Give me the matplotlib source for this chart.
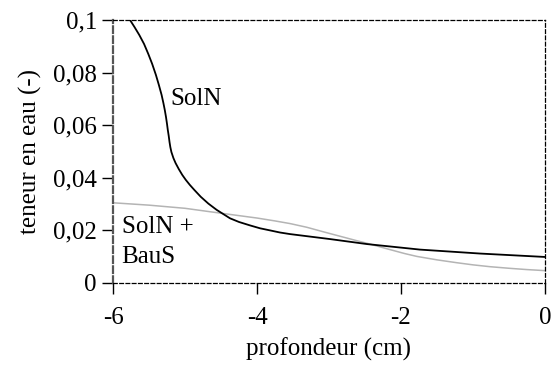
import matplotlib
matplotlib.use("Agg")
import matplotlib.pyplot as plt
from matplotlib.ticker import FuncFormatter

plt.rcParams['font.family'] = ['Liberation Serif', 'DejaVu Serif']

# SolN seul
soln_x = [-5.764, -5.701, -5.635, -5.569, -5.510, -5.456, -5.404, -5.363, -5.325,
          -5.300, -5.281, -5.264, -5.250, -5.239, -5.226, -5.215, -5.204, -5.189,
          -5.161, -5.131, -5.086, -5.038, -4.989, -4.933, -4.871, -4.782, -4.676,
          -4.560, -4.375, -4.250, -4.097, -3.958, -3.819, -3.681, -3.542, -2.986,
          -2.472, -1.736, -0.903, 0.0]
soln_y = [0.1000, 0.0973, 0.0943, 0.0909, 0.0871, 0.0833, 0.0791, 0.0753, 0.0715,
          0.0684, 0.0658, 0.0631, 0.0605, 0.0582, 0.0559, 0.0536, 0.0517, 0.0498,
          0.0475, 0.0456, 0.0433, 0.0411, 0.0392, 0.0373, 0.0354, 0.0328, 0.0302,
          0.0278, 0.0246, 0.0232, 0.0219, 0.0208, 0.0200, 0.0192, 0.0186, 0.0167,
          0.0148, 0.0127, 0.0112, 0.0099]

# SolN + BauS
baus_x = [-6.0, -5.5, -5.0, -4.653, -4.3, -4.0, -3.75, -3.542, -3.31, -3.083,
          -2.85, -2.616, -2.472, -2.3, -2.153, -1.95, -1.778, -1.5, -1.222, -1.0,
          -0.764, -0.5, -0.25, 0.0]
baus_y = [0.0305, 0.0296, 0.0284, 0.0271, 0.0258, 0.0247, 0.0236, 0.0226, 0.0212,
          0.0195, 0.0178, 0.0161, 0.0151, 0.0138, 0.0127, 0.0112, 0.0101, 0.0088,
          0.0077, 0.0069, 0.0062, 0.0056, 0.0051, 0.0047]

xticks = [-6, -4, -2, 0]
yticks = [0, 0.02, 0.04, 0.06, 0.08, 0.1]

fig = plt.figure(figsize=(5.6, 3.71), dpi=100)
ax = fig.add_axes([0.2018, 0.2372, 0.7714, 0.7089])

ax.plot(baus_x, baus_y, color='#b4b4b4', lw=1.1, solid_joinstyle='round')
ax.plot(soln_x, soln_y, color='black', lw=1.3, solid_joinstyle='round')

ax.set_xlim(-6, 0)
ax.set_ylim(0, 0.1)
ax.set_xticks(xticks)
ax.set_yticks(yticks)

def virgule(v, pos):
    return ('%g' % v).replace('.', ',')

ax.xaxis.set_major_formatter(FuncFormatter(lambda v, p: '%d' % v))
ax.yaxis.set_major_formatter(FuncFormatter(virgule))

for side in ['top', 'right', 'bottom']:
    ax.spines[side].set_linestyle((0, (3, 2)))
    ax.spines[side].set_linewidth(0.9)
ax.spines['left'].set_linestyle((0, (3, 1.5)))
ax.spines['left'].set_linewidth(1.6)
ax.spines['left'].set_color('#555555')

ax.tick_params(direction='out', length=8, width=1, labelsize=18)
ax.tick_params(axis='x', pad=9.5)
ax.tick_params(axis='y', pad=3.6)

ax.set_xlabel('profondeur (cm)', fontsize=18, labelpad=6)
ax.set_ylabel('teneur en eau (-)', fontsize=18, labelpad=8)

ax.text(-5.21, 0.0677, 'SolN', fontsize=18, va='baseline', ha='left')
ax.text(-5.88, 0.0190, 'SolN +', fontsize=18, va='baseline', ha='left')
ax.text(-5.88, 0.0076, 'BauS', fontsize=18, va='baseline', ha='left')

fig.savefig('out.png', dpi=100)
